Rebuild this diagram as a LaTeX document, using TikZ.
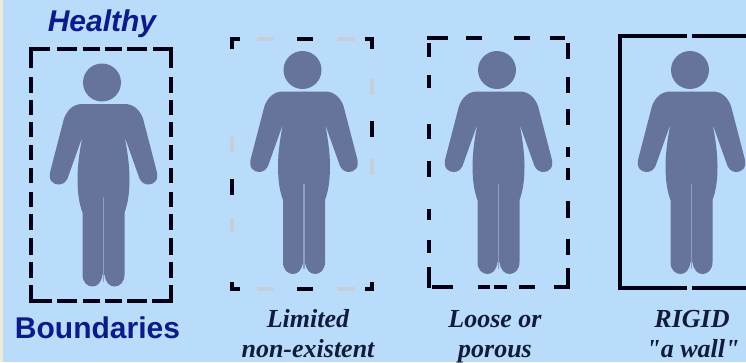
\documentclass[tikz,border=0pt]{standalone}
\usepackage{fontspec}
\setsansfont{Liberation Sans}
\newfontfamily\capfont{Liberation Serif}
\usetikzlibrary{positioning}
\definecolor{skybg}{HTML}{BADCFB}
\definecolor{stripbg}{HTML}{EEEBDC}
\definecolor{figcol}{HTML}{66739B}
\definecolor{leggap}{HTML}{8E9CC2}
\definecolor{navy}{HTML}{0C1A8A}
\definecolor{capcol}{HTML}{111B3A}
\definecolor{fadecol}{HTML}{C4CFD8}
\tikzset{
  bnd/.style  ={line width=3.8pt, black!92!blue},
  bndG/.style ={line width=3.4pt, fadecol},
  wall/.style ={line width=4.4pt, black!92!blue},
  ttlI/.style ={font=\fontsize{30}{32}\selectfont\sffamily\bfseries\itshape, text=navy, anchor=base},
  ttlB/.style ={font=\fontsize{30}{32}\selectfont\sffamily\bfseries, text=navy, anchor=base},
  capt/.style ={font=\fontsize{26}{30}\selectfont\capfont\bfseries\itshape, text=capcol, anchor=base},
  person/.pic={
    \fill[figcol] (0,0) circle (19);
    \begin{scope}[xshift=1.5pt]
      \foreach \s in {1,-1} {
        \fill[figcol, xscale=\s] (-0.5,21.5) -- (21,21.5)
          .. controls (30,21.5) and (36,27) .. (39.5,36) -- (53,88)
          .. controls (56,98) and (50,102) .. (45,102)
          .. controls (41,102) and (38,100) .. (36,96) -- (21,54)
          .. controls (24,68) and (26,84) .. (26,96)
          .. controls (26,112) and (24,122) .. (21,130) -- (21,192)
          .. controls (21,200) and (16,204) .. (11,204)
          .. controls (6,204) and (2,200) .. (1,192) -- (-0.5,192) -- cycle;
      }
      \draw[leggap, line width=1.5pt] (0,114) -- (0,199);
    \end{scope}
  },
}
\begin{document}
\begin{tikzpicture}[x=1pt, y=-1pt]
  \useasboundingbox (0,0) rectangle (746,362);
  \fill[skybg] (0,0) rectangle (746,362);
  \fill[stripbg] (0,0) rectangle (3,362);

  \pic at (102,82.5) {person};
  \pic at (302.5,70) {person};
  \pic at (497,70) {person};
  \pic at (690,70) {person};

  % healthy box
  \draw[bnd] (31,68) -- (31,49) -- (50,49);
  \draw[bnd] (153,49) -- (171,49) -- (171,68);
  \draw[bnd] (31,285) -- (31,301) -- (52,301);
  \draw[bnd] (152,301) -- (171,301) -- (171,285);
  \foreach \a/\b in {57/77, 83/100, 105/122, 127/147} {
    \draw[bnd] (\a,49) -- (\b,49);
  }
  \foreach \a/\b in {57/77, 83/100, 105/122, 127/147} {
    \draw[bnd] (\a,301) -- (\b,301);
  }
  \foreach \a/\b in {77/93, 100/115, 122/137, 145/160, 168/183, 192/207, 214/230, 238/255, 262/278} {
    \draw[bnd] (31,\a) -- (31,\b);
    \draw[bnd] (171,\a) -- (171,\b);
  }

  % limited box
  \draw[bnd] (232,49) -- (232,39) -- (240,39);
  \draw[bnd] (365,39) -- (372,39) -- (372,49);
  \draw[bnd] (232,282) -- (232,289) -- (240,289);
  \draw[bnd] (365,289) -- (372,289) -- (372,282);
  \draw[bnd] (297,39) -- (313,39);
  \draw[bnd] (297,289) -- (313,289);
  \draw[bnd] (372,121) -- (372,137);
  \draw[bnd] (232,179) -- (232,195);
  \foreach \a/\b in {257/274, 338/355} {
    \draw[bndG] (\a,39) -- (\b,39);
    \draw[bndG] (\a,289) -- (\b,289);
  }
  \foreach \a/\b in {79/95, 159/175} {
    \draw[bndG] (372,\a) -- (372,\b);
  }
  \foreach \a/\b in {137/153, 218/233} {
    \draw[bndG] (232,\a) -- (232,\b);
  }

  % loose box
  \foreach \a/\b in {427/448, 466/482, 514/530, 550/565} {
    \draw[bnd] (\a,38) -- (\b,38);
  }
  \foreach \a/\b in {432/453, 478/490, 494/507, 519/535} {
    \draw[bnd] (\a,287) -- (\b,287);
  }
  \draw[bnd] (554,287) -- (568,287) -- (568,268);
  \foreach \a/\b in {43/59, 77/93, 109/125, 147/157, 168/180, 201/218, 239/255} {
    \draw[bnd] (568,\a) -- (568,\b);
  }
  \foreach \a/\b in {43/57, 75/88, 124/139, 161/177, 209/220, 240/253, 267/288} {
    \draw[bnd] (429,\a) -- (429,\b);
  }

  % rigid box
  \draw[wall] (686.5,36) -- (620,36) -- (620,288) -- (686.5,288);
  \draw[wall] (692,36) -- (746,36);
  \draw[wall] (692,288) -- (746,288);

  \node[ttlI] (healthy) at (102,31) {Healthy};
  \node[ttlB] (boundaries) at (97.5,338) {Boundaries};
  \node[capt] (limited) at (308,327) {Limited};
  \node[capt] (nonexist) at (308,357) {non-existent};
  \node[capt] (loose) at (495,327) {Loose or};
  \node[capt] (porous) at (495,357) {porous};
  \node[capt] (rigid) at (692,327) {RIGID};
  \node[capt] (awall) at (693,357) {"a wall"};
\end{tikzpicture}
\end{document}
